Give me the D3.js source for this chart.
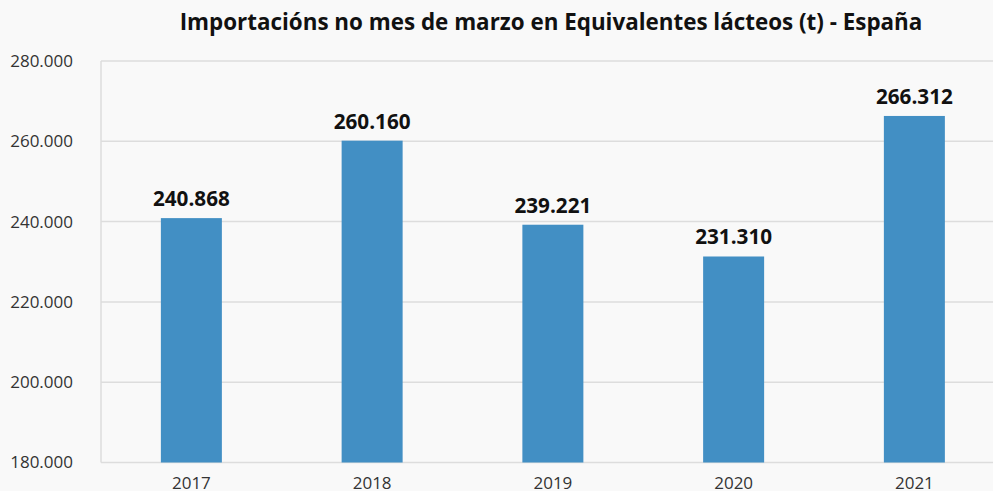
<!DOCTYPE html>
<html><head><meta charset="utf-8">
<script src="https://cdn.jsdelivr.net/npm/d3@7"></script>
<style>
html,body{margin:0;padding:0;background:#f9f9f9;overflow:hidden;}
text{font-family:"Open Sans",sans-serif;}
</style></head>
<body><svg id="c" width="993" height="491"></svg>
<script>
const years = ["2017","2018","2019","2020","2021"];
const values = [240868, 260160, 239221, 231310, 266312];
const yTicks = [180000, 200000, 220000, 240000, 260000, 280000];
const title = "Importacións no mes de marzo en Equivalentes lácteos (t) - España";

const svg = d3.select("#c");
const mLeft = 101, mRight = 1004.75, mTop = 61, mBottom = 462.5;
const fmt = v => d3.format(",")(v).replace(/,/g, ".");

const x = d3.scaleBand().domain(years).range([mLeft, mRight]).paddingInner(0.6625).paddingOuter(0.33125);
const y = d3.scaleLinear().domain([180000, 280000]).range([mBottom, mTop]);

svg.append("rect").attr("width",993).attr("height",491).attr("fill","#f9f9f9");

// grid
svg.append("g").selectAll("line").data(yTicks).join("line")
  .attr("x1", mLeft).attr("x2", 993)
  .attr("y1", d=>y(d)).attr("y2", d=>y(d))
  .attr("stroke", "#dddddd").attr("stroke-width", 1.5);
svg.append("line").attr("x1",mLeft).attr("x2",mLeft).attr("y1",mTop).attr("y2",mBottom)
  .attr("stroke","#dddddd").attr("stroke-width",1.5);

// y axis labels
const yAxis = d3.axisLeft(y).tickValues(yTicks).tickFormat(fmt).tickSize(0).tickPadding(28);
const ga = svg.append("g").attr("transform",`translate(${mLeft},0)`).call(yAxis);
ga.select(".domain").remove();
ga.selectAll("text").attr("font-size",17).attr("fill","#333").attr("font-family","Open Sans").attr("dy","0.32em");

// x axis
const xAxis = d3.axisBottom(x).tickSize(0).tickPadding(14);
const gx = svg.append("g").attr("transform",`translate(0,${mBottom})`).call(xAxis);
gx.select(".domain").remove();
gx.selectAll("text").attr("font-size",17).attr("fill","#333").attr("font-family","Open Sans");

// bars
svg.append("g").selectAll("rect").data(values).join("rect")
  .attr("x",(d,i)=>x(years[i])).attr("width",x.bandwidth())
  .attr("y",d=>y(d)).attr("height",d=>mBottom-y(d))
  .attr("fill","#428fc4");

// labels
svg.append("g").selectAll("text").data(values).join("text")
  .attr("x",(d,i)=>x(years[i])+x.bandwidth()/2).attr("y",d=>y(d)-12)
  .attr("text-anchor","middle").attr("font-size",20.7).attr("font-weight","bold").attr("fill","#111")
  .text(fmt);

svg.append("text").attr("x",551).attr("y",30).attr("text-anchor","middle")
  .attr("font-size",22.4).attr("font-weight","bold").attr("fill","#111").text(title);
</script></body></html>
